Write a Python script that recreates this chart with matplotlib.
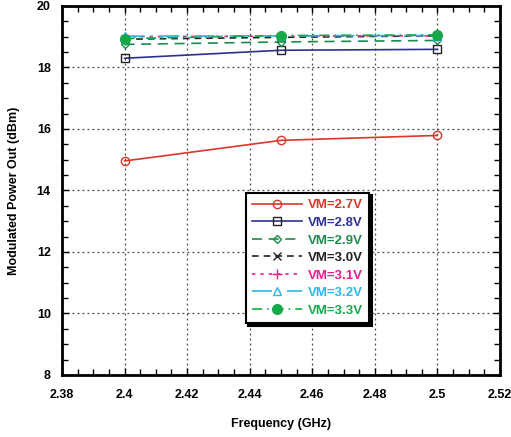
import matplotlib
matplotlib.use("Agg")
import matplotlib.pyplot as plt
from matplotlib.ticker import MultipleLocator

plt.rcParams['font.family'] = ['Liberation Sans', 'DejaVu Sans']
plt.rcParams['font.weight'] = 'bold'

freq = [2.4, 2.45, 2.5]
vm_27 = [14.96, 15.63, 15.79]
vm_28 = [18.30, 18.56, 18.59]
vm_29 = [18.75, 18.83, 18.88]
vm_30 = [18.92, 18.98, 19.03]
vm_31 = [19.00, 19.02, 19.03]
vm_32 = [19.02, 19.03, 19.04]
vm_33 = [18.94, 19.04, 19.06]
labels = ["VM=2.7V", "VM=2.8V", "VM=2.9V", "VM=3.0V", "VM=3.1V", "VM=3.2V", "VM=3.3V"]
xtick_labels = ['2.38', '2.4', '2.42', '2.44', '2.46', '2.48', '2.5', '2.52']

fig = plt.figure(figsize=(5.11, 4.37), dpi=100)
ax = fig.add_axes([0.1213, 0.1419, 0.8572, 0.8444])

red = '#d9372a'
navy = '#2e3190'
green = '#1b8c4c'
magenta = '#ec1c8c'
cyan = '#29b9ea'
green2 = '#17a84b'

ax.plot(freq, vm_27, color=red, ls='-', lw=1.2, marker='o', ms=6, mfc='none', mec=red, label=labels[0])
ax.plot(freq, vm_28, color=navy, ls='-', lw=1.2, marker='s', ms=6, mfc='none', mec='#222222', label=labels[1])
ax.plot(freq, vm_29, color=green, ls=(0, (6, 4)), lw=1.2, marker='D', ms=4.5, mfc='none', mec=green, label=labels[2])
ax.plot(freq, vm_30, color='#222222', ls=(0, (4, 3)), lw=1.2, marker='x', ms=6, label=labels[3])
ax.plot(freq, vm_31, color=magenta, ls=(0, (2, 3)), lw=1.2, marker='+', ms=7, label=labels[4])
ax.plot(freq, vm_32, color=cyan, ls=(0, (12, 4, 1, 4)), lw=1.2, marker='^', ms=6, mfc='none', mec=cyan, label=labels[5])
ax.plot(freq, vm_33, color=green2, ls=(0, (6, 3, 1, 3)), lw=1.2, marker='o', ms=7, mfc=green2, mec=green2, label=labels[6])

ax.set_xlim(2.38, 2.52)
ax.set_ylim(8, 20)
ax.set_xticks([2.38, 2.4, 2.42, 2.44, 2.46, 2.48, 2.5, 2.52])
ax.set_xticklabels(xtick_labels)
ax.xaxis.set_minor_locator(MultipleLocator(0.005))
ax.yaxis.set_major_locator(MultipleLocator(2))
ax.yaxis.set_minor_locator(MultipleLocator(0.5))
ax.tick_params(which='both', direction='in', top=True, right=True, labelsize=9)
ax.tick_params(axis='x', which='major', pad=10)
ax.tick_params(axis='y', which='major', pad=8)
ax.tick_params(which='major', length=5, width=1)
ax.tick_params(which='minor', length=4, width=1)
ax.grid(True, which='major', color='#444444', ls=(0, (1.5, 2.5)), lw=0.9)
for s in ax.spines.values():
    s.set_linewidth(2)

ax.set_xlabel('Frequency (GHz)', fontsize=9, fontweight='bold', labelpad=12)
ax.set_ylabel('Modulated Power Out (dBm)', fontsize=9, fontweight='bold', labelpad=12)

leg = ax.legend(loc='upper left', bbox_to_anchor=(0.404, 0.512), frameon=True, fancybox=False,
                shadow={'color': 'black', 'alpha': 1}, edgecolor='black', fontsize=9.5,
                handlelength=3.8, borderpad=0.5, labelspacing=0.4, handletextpad=0.4)
leg.get_frame().set_linewidth(1.5)
text_colors = [red, navy, green, '#222222', magenta, cyan, green2]
for t, c in zip(leg.get_texts(), text_colors):
    t.set_color(c)
    t.set_fontweight('bold')

fig.savefig('out.png', dpi=100)
